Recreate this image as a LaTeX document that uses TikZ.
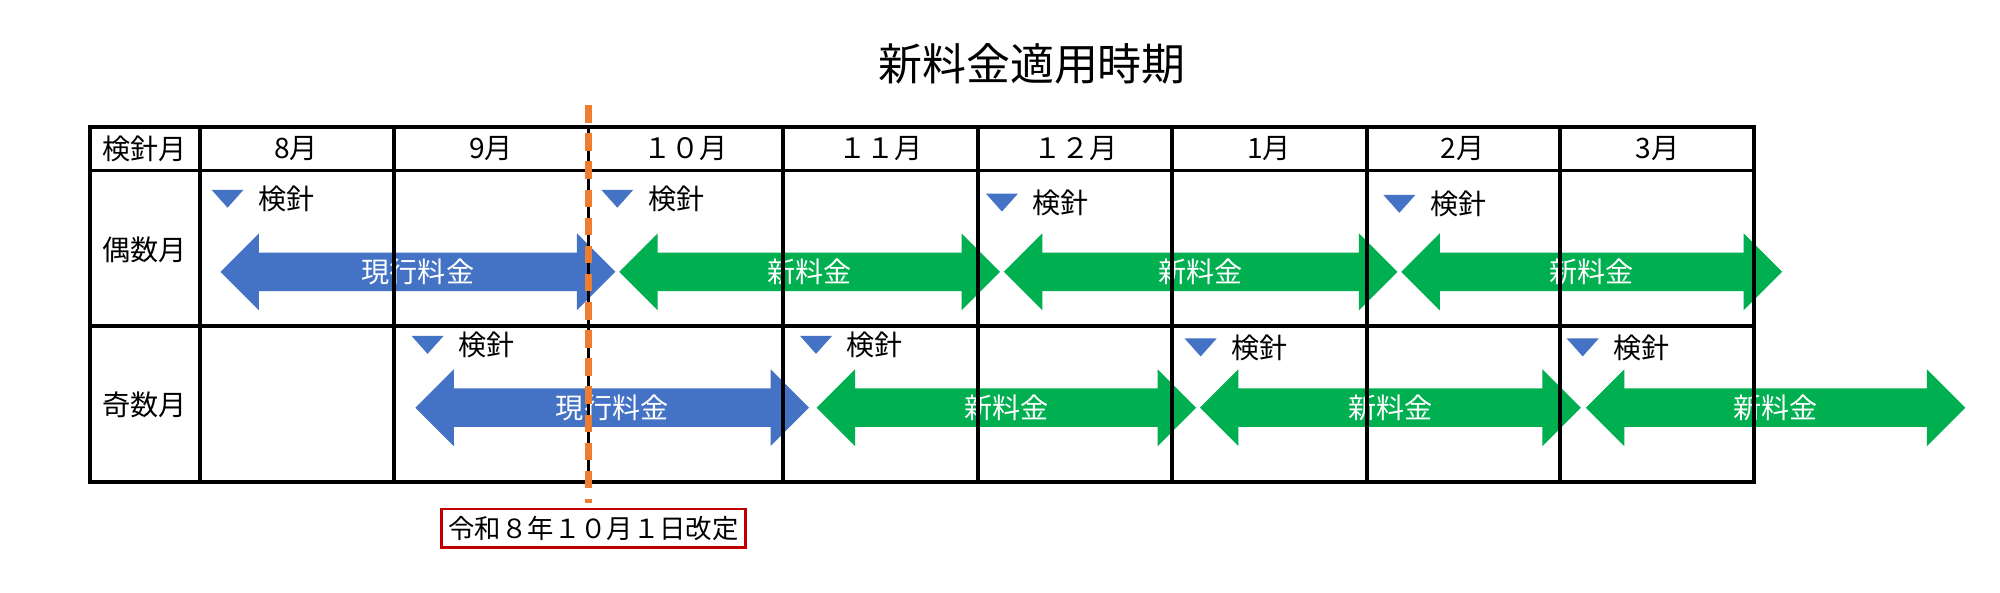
\documentclass[tikz,border=0pt]{standalone}
\usepackage{fontspec}
\setmainfont{Noto Sans CJK JP}
\usetikzlibrary{positioning}
\definecolor{curblue}{HTML}{4472C4}
\definecolor{newgreen}{HTML}{00B050}
\definecolor{cutorange}{HTML}{ED7D31}
\definecolor{boxred}{HTML}{C00000}

% fee arrow: #1 name, #2 left x, #3 right x, #4 centre y, #5 colour, #6 text
\newcommand{\feearrow}[6]{%
  \fill[#5] (#2,#4) -- (#2+30,#4-30) -- (#2+30,#4-15) -- (#3-30,#4-15) -- (#3-30,#4-30)
    -- (#3,#4) -- (#3-30,#4+30) -- (#3-30,#4+15) -- (#2+30,#4+15) -- (#2+30,#4+30) -- cycle;
  \node[feetext] (#1) at ({(#2+#3)/2},#4) {#6};}
% reading mark: #1 name, #2 x, #3 y
\newcommand{\readmark}[3]{%
  \fill[curblue] (#2,#3-7) -- (#2+25,#3-7) -- (#2+12.5,#3+7) -- cycle;
  \node[marktext, right=4pt of {(#2+25,#3)}] (#1) {検針};}

\begin{document}
\begin{tikzpicture}[
    x=0.01282cm, y=-0.01282cm,
    grid/.style={draw, line width=1.1pt},
    headtext/.style={font=\fontsize{8}{9}\selectfont},
    feetext/.style={text=white, font=\fontsize{8}{9}\selectfont},
    marktext/.style={font=\fontsize{8}{9}\selectfont, inner sep=0pt},
    revbox/.style={draw=boxred, line width=0.8pt, inner sep=2pt, font=\fontsize{7.5}{9}\selectfont}
]
\useasboundingbox (0,0) rectangle (1560,462);

% Title
\node[font=\fontsize{12.5}{14}\selectfont] (title) at (805,50) {新料金適用時期};

% Arrows (drawn under the grid lines)
\feearrow{e1}{172}{480}{212}{curblue}{現行料金}
\feearrow{e2}{483}{780}{212}{newgreen}{新料金}
\feearrow{e3}{783}{1090}{212}{newgreen}{新料金}
\feearrow{e4}{1093}{1390}{212}{newgreen}{新料金}
\feearrow{o1}{324}{631}{318}{curblue}{現行料金}
\feearrow{o2}{637}{933}{318}{newgreen}{新料金}
\feearrow{o3}{936}{1233}{318}{newgreen}{新料金}
\feearrow{o4}{1237}{1533}{318}{newgreen}{新料金}

% Grid
\draw[grid] (70,99) rectangle (1368,376);
\draw[grid] (70,133) -- (1368,133);
\draw[grid] (70,254) -- (1368,254);
\foreach \cx in {156,307,459,611,763,914,1066,1217}
  \draw[grid] (\cx,99) -- (\cx,376);

% Header
\node[headtext] (h0) at (113,116) {検針月};
\foreach \cx/\lab [count=\i] in {231/8月, 383/9月, 535/１０月, 687/１１月, 839/１２月, 990/1月, 1141/2月, 1293/3月}
  \node[headtext] (h\i) at (\cx,116) {\lab};
\node[headtext] (even) at (113,195) {偶数月};
\node[headtext] (odd) at (113,316) {奇数月};

% Reading marks
\readmark{m1}{165}{155}
\readmark{m2}{469}{155}
\readmark{m3}{769}{158}
\readmark{m4}{1079}{159}
\readmark{m5}{321}{269}
\readmark{m6}{624}{269}
\readmark{m7}{924}{271}
\readmark{m8}{1222}{271}

% Revision line
\node[revbox] (rev) at (463,412) {令和８年１０月１日改定};
\coordinate (cuttop) at (459,82);
\coordinate (cutbot) at (459,392);
\draw[cutorange, line width=2.2pt, dash pattern=on 5pt off 3pt] (cuttop) -- (cutbot);
\end{tikzpicture}
\end{document}
